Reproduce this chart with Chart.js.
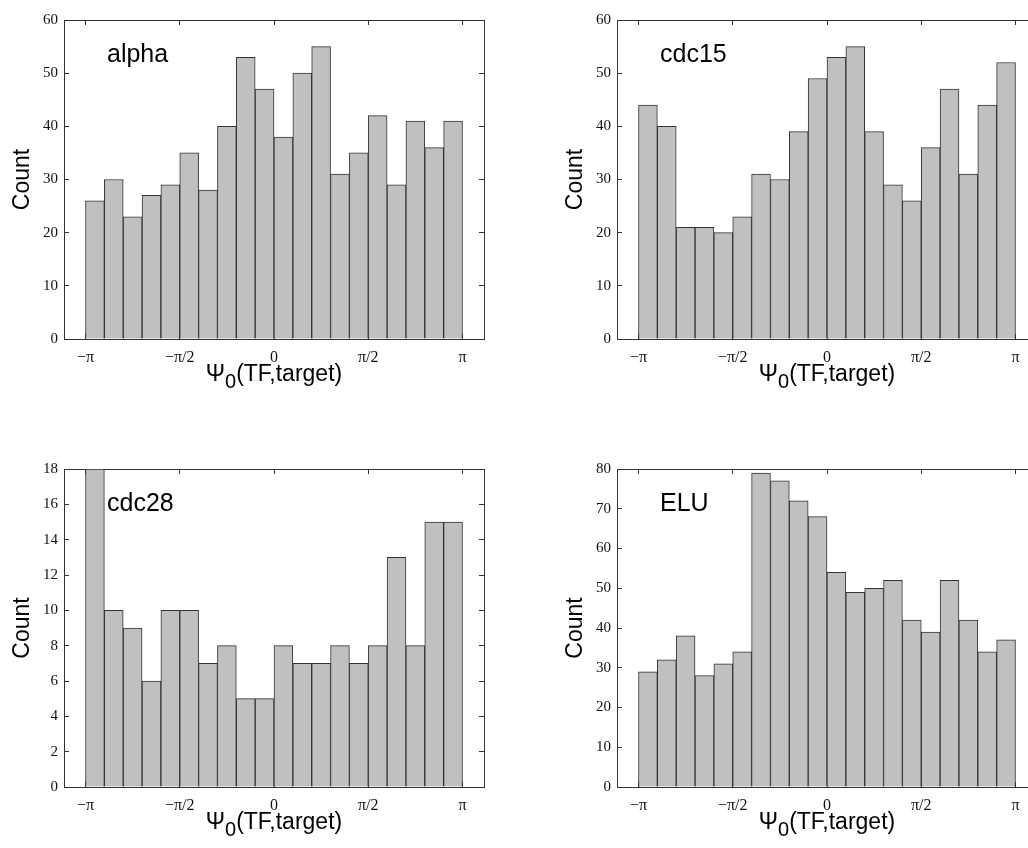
<!DOCTYPE html>
<html>
<head>
<meta charset="utf-8">
<script src="https://cdn.jsdelivr.net/npm/chart.js@4"></script>
<style>
  html, body { margin: 0; padding: 0; background: #fff; overflow: hidden; width: 1028px; height: 848px; }
  .panel { position: absolute; width: 500px; height: 440px; }
</style>
</head>
<body>
<div class="panel" style="left:0;top:0"><canvas id="alphaChart" width="500" height="440"></canvas></div>
<div class="panel" style="left:553px;top:0"><canvas id="cdc15Chart" width="500" height="440"></canvas></div>
<div class="panel" style="left:0;top:449px"><canvas id="cdc28Chart" width="500" height="440"></canvas></div>
<div class="panel" style="left:553px;top:449px"><canvas id="eluChart" width="500" height="440"></canvas></div>
<script>
// histogram counts, 20 bins from -pi to pi
const alphaCounts = [26, 30, 23, 27, 29, 35, 28, 40, 53, 47, 38, 50, 55, 31, 35, 42, 29, 41, 36, 41];
const cdc15Counts = [44, 40, 21, 21, 20, 23, 31, 30, 39, 49, 53, 55, 39, 29, 26, 36, 47, 31, 44, 52];
const cdc28Counts = [18, 10, 9, 6, 10, 10, 7, 8, 5, 5, 8, 7, 7, 8, 7, 8, 13, 8, 15, 15];
const eluCounts = [29, 32, 38, 28, 31, 34, 79, 77, 72, 68, 54, 49, 50, 52, 42, 39, 52, 42, 34, 37];

const binCount = 20;
const binCenters = Array.from({ length: binCount }, (_, k) => -Math.PI + (k + 0.5) * (2 * Math.PI / binCount));

const phaseTicks = [-Math.PI, -Math.PI / 2, 0, Math.PI / 2, Math.PI];
const phaseTickLabels = ['\u2212\u03c0', '\u2212\u03c0/2', '0', '\u03c0/2', '\u03c0'];

const serif = '"Liberation Serif", "Times New Roman", serif';
const sans = '"Liberation Sans", Arial, Helvetica, sans-serif';
const frameColor = '#333';

// panel name + x axis label with subscript
const panelText = {
  id: 'panelText',
  afterDraw(chart, args, opts) {
    const { ctx, chartArea } = chart;
    ctx.save();
    ctx.fillStyle = '#000';
    ctx.textBaseline = 'alphabetic';
    ctx.textAlign = 'left';
    ctx.font = '25px ' + sans;
    ctx.fillText(opts.name, chartArea.left + 43, chartArea.top + 42);

    const mainFont = '23px ' + sans;
    const subFont = '20px ' + sans;
    ctx.font = mainFont;
    const wPsi = ctx.measureText('\u03a8').width;
    const wRest = ctx.measureText('(TF,target)').width;
    ctx.font = subFont;
    const wSub = ctx.measureText('0').width;
    const total = wPsi + wSub + wRest;
    let x = (chartArea.left + chartArea.right) / 2 - total / 2;
    const y = chartArea.bottom + 42;
    ctx.font = mainFont;
    ctx.fillText('\u03a8', x, y);
    x += wPsi;
    ctx.font = subFont;
    ctx.fillText('0', x, y + 7);
    x += wSub;
    ctx.font = mainFont;
    ctx.fillText('(TF,target)', x, y);
    ctx.restore();
  }
};

function makePanel(id, name, counts, yMax, yStep, plotHeight) {
  const xHeight = 440 - 15 - plotHeight;
  const frame = { drawOnChartArea: false, tickLength: -5, color: frameColor, offset: false };
  const border = { display: true, color: frameColor, width: 1 };

  new Chart(document.getElementById(id), {
    type: 'bar',
    data: {
      datasets: [{
        data: counts.map((c, i) => ({ x: binCenters[i], y: c })),
        backgroundColor: '#c0c0c0',
        borderColor: '#333',
        borderWidth: 1,
        barPercentage: 1,
        categoryPercentage: 1,
        xAxisID: 'x',
        yAxisID: 'y'
      }]
    },
    options: {
      responsive: false,
      animation: false,
      layout: { padding: { left: 0, top: 15, right: 16, bottom: 0 } },
      plugins: {
        legend: { display: false },
        tooltip: { enabled: false },
        panelText: { name: name }
      },
      scales: {
        x: {
          type: 'linear', position: 'bottom', min: -3.5, max: 3.5, offset: false,
          afterBuildTicks(s) { s.ticks = phaseTicks.map(v => ({ value: v })); },
          afterFit(s) { s.height = xHeight; },
          ticks: {
            autoSkip: false, maxRotation: 0, padding: 14, color: '#111',
            font: { family: serif, size: 16 },
            callback: (v, i) => phaseTickLabels[i]
          },
          grid: frame,
          border: border
        },
        xTop: {
          type: 'linear', position: 'top', min: -3.5, max: 3.5, offset: false,
          afterBuildTicks(s) { s.ticks = phaseTicks.map(v => ({ value: v })); },
          afterFit(s) { s.height = 0; },
          ticks: { display: false },
          grid: frame,
          border: border
        },
        y: {
          position: 'left', min: 0, max: yMax,
          afterFit(s) { s.width = 64; },
          ticks: { stepSize: yStep, padding: 11, color: '#111', font: { family: serif, size: 15 } },
          grid: frame,
          border: border,
          title: {
            display: true, text: 'Count', color: '#000',
            font: { family: sans, size: 23 },
            padding: { top: 9, bottom: 0 }
          }
        },
        yRight: {
          position: 'right', min: 0, max: yMax,
          afterFit(s) { s.width = 0; },
          ticks: { display: false, stepSize: yStep },
          grid: frame,
          border: border
        }
      }
    },
    plugins: [panelText]
  });
}

makePanel('alphaChart', 'alpha', alphaCounts, 60, 10, 324);
makePanel('cdc15Chart', 'cdc15', cdc15Counts, 60, 10, 324);
makePanel('cdc28Chart', 'cdc28', cdc28Counts, 18, 2, 323);
makePanel('eluChart', 'ELU', eluCounts, 80, 10, 323);
</script>
</body>
</html>
